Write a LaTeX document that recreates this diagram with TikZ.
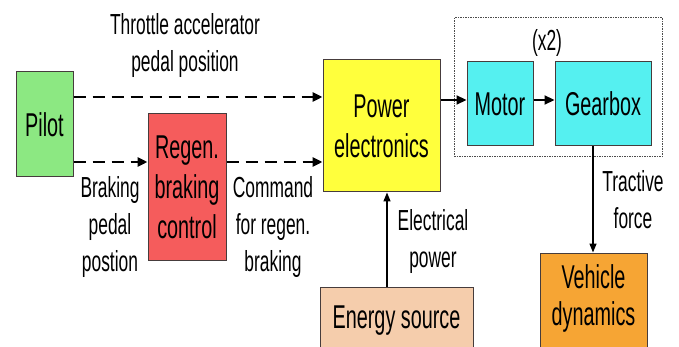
\documentclass[tikz,border=0pt]{standalone}
\usepackage{fontspec}
\setmainfont{Liberation Sans}[FakeStretch=0.6]
\usetikzlibrary{arrows.meta}
\definecolor{cpilot}{RGB}{140,232,130}
\definecolor{cregen}{RGB}{245,92,92}
\definecolor{cpe}{RGB}{255,255,60}
\definecolor{ccyan}{RGB}{85,240,240}
\definecolor{cenergy}{RGB}{245,205,172}
\definecolor{cvehicle}{RGB}{246,165,52}
\definecolor{cborder}{RGB}{70,60,60}
\tikzset{
  box/.style={draw=cborder, line width=1pt, inner sep=0pt, align=center,
    font=\fontsize{33}{40}\selectfont},
  lbl/.style={align=center, inner sep=0pt, font=\fontsize{29}{37}\selectfont},
  dasharrow/.style={line width=2.8pt, dash pattern=on 12pt off 7pt,
    -{Triangle[length=10pt,width=9pt]}},
  solidarrow/.style={line width=2.2pt, -{Triangle[length=10pt,width=9pt]}},
  thinarrow/.style={line width=1.4pt, -{Triangle[length=9pt,width=7pt]}},
}
\begin{document}
\begin{tikzpicture}[x=1pt,y=-1pt]
\useasboundingbox (0,0) rectangle (679,347);
\clip (0,0) rectangle (679,347);
% boxes
\node[box, fill=cpilot, minimum width=57pt, minimum height=105pt] (pilot) at (44.5,124.5) {Pilot};
\node[box, fill=cregen, minimum width=78pt, minimum height=146pt] (regen) at (187,187) {Regen.\\braking\\control};
\node[box, fill=cpe, minimum width=117pt, minimum height=132pt] (pe) at (381.5,126) {Power\\electronics};
\node[draw=black!70, dash pattern=on 1.5pt off 1pt, line width=1pt, minimum width=208pt, minimum height=139pt, inner sep=0pt] (group) at (558,87.5) {};
\node[box, fill=ccyan, minimum width=66pt, minimum height=84pt] (motor) at (500,104) {Motor};
\node[box, fill=ccyan, minimum width=96pt, minimum height=84pt] (gear) at (603,104) {Gearbox};
\node[box, fill=cenergy, minimum width=153pt, minimum height=80pt] (energy) at (396.5,327) {};
\node[font=\fontsize{33}{40}\selectfont, inner sep=0pt] (energytxt) at (396.5,321) {Energy source};
\node[box, fill=cvehicle, minimum width=107pt, minimum height=110pt] (vehicle) at (593.5,308) {};
\node[align=center, inner sep=0pt, font=\fontsize{33}{37}\selectfont] (vehicletxt) at (593.5,298) {Vehicle\\dynamics};
% labels
\node[lbl] (lthrottle) at (185,46) {Throttle accelerator\\pedal position};
\node[lbl] (lbraking) at (110,227) {Braking\\pedal\\postion};
\node[lbl] (lcommand) at (273,227) {Command\\for regen.\\braking};
\node[lbl] (lelec) at (433,242) {Electrical\\power};
\node[lbl] (ltractive) at (633,200) {Tractive\\force};
\node[lbl] (lx2) at (547,43) {(x2)};
% connectors
\coordinate (yth) at (0,97);
\coordinate (ybr) at (0,162);
\draw[dasharrow] (pilot.east |- yth) -- (pe.west |- yth);
\draw[dasharrow] (pilot.east |- ybr) -- (regen.west |- ybr);
\draw[dasharrow] (regen.east |- ybr) -- (pe.west |- ybr);
\coordinate (ym) at (0,100);
\draw[solidarrow] (pe.east |- ym) -- (motor.west |- ym);
\draw[solidarrow] (motor.east |- ym) -- (gear.west |- ym);
\coordinate (xg) at (593,0);
\draw[thinarrow] (gear.south -| xg) -- (vehicle.north -| xg);
\coordinate (xe) at (387,0);
\draw[thinarrow] (energy.north -| xe) -- (pe.south -| xe);
\end{tikzpicture}
\end{document}
